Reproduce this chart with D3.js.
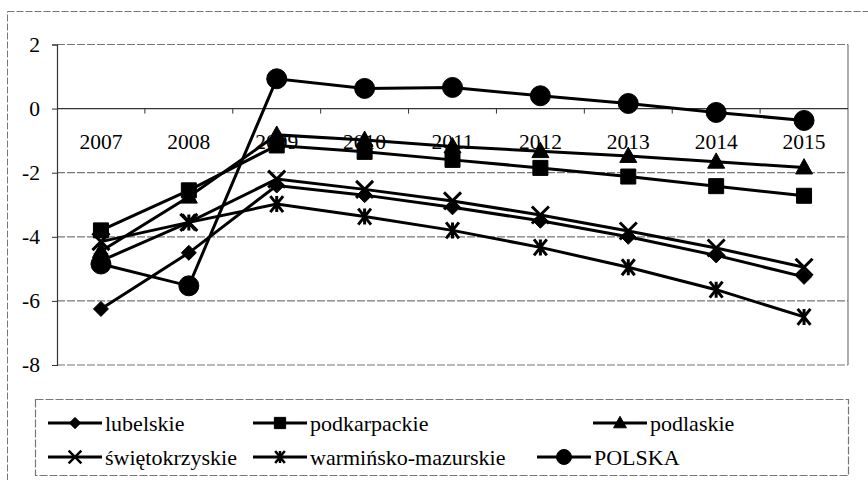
<!DOCTYPE html>
<html>
<head>
<meta charset="utf-8">
<script src="https://cdn.jsdelivr.net/npm/d3@7"></script>
<style>
  body { margin: 0; background: #fff; }
  text { font-family: "Liberation Serif", "Times New Roman", serif; fill: #000; }
</style>
</head>
<body>
<svg id="chart" width="868" height="480"></svg>
<script>
var years = ["2007", "2008", "2009", "2010", "2011", "2012", "2013", "2014", "2015"];
var yTicks = [2, 0, -2, -4, -6, -8];

var lubelskie = [-6.25, -4.5, -2.4, -2.7, -3.08, -3.5, -4.0, -4.58, -5.25];
var podkarpackie = [-3.8, -2.55, -1.15, -1.35, -1.6, -1.85, -2.12, -2.42, -2.72];
var podlaskie = [-4.45, -2.75, -0.82, -0.98, -1.18, -1.33, -1.48, -1.66, -1.84];
var swietokrzyskie = [-4.15, -3.55, -2.2, -2.52, -2.88, -3.32, -3.82, -4.35, -4.95];
var warminskoMazurskie = [-4.75, -3.55, -2.98, -3.37, -3.8, -4.33, -4.95, -5.65, -6.5];
var polska = [-4.85, -5.53, 0.93, 0.63, 0.66, 0.4, 0.16, -0.12, -0.37];

var seriesNames = ["lubelskie", "podkarpackie", "podlaskie", "świętokrzyskie", "warmińsko-mazurskie", "POLSKA"];
var seriesValues = [lubelskie, podkarpackie, podlaskie, swietokrzyskie, warminskoMazurskie, polska];
var seriesMarkers = ["diamond", "square", "triangle", "cross", "asterisk", "circle"];

var svg = d3.select("#chart");
var plotLeft = 57, plotRight = 848, plotTop = 44.5, plotBottom = 365;

var x = d3.scaleBand().domain(years).range([plotLeft, plotRight]);
var y = d3.scaleLinear().domain([-8, 2]).range([plotBottom, plotTop]);

// outer chart frame
svg.append("rect")
    .attr("x", 7.5).attr("y", 11.5).attr("width", 900).attr("height", 500)
    .attr("fill", "none").attr("stroke", "#777").attr("stroke-width", 1)
    .attr("stroke-dasharray", "7,2");

// grid lines
svg.append("g")
    .selectAll("line")
    .data(yTicks.filter(d => d != 0))
    .enter().append("line")
    .attr("x1", plotLeft).attr("x2", plotRight)
    .attr("y1", d => y(d)).attr("y2", d => y(d))
    .attr("stroke", "#777").attr("stroke-width", 1.2)
    .attr("stroke-dasharray", "8,2");

// plot right border
svg.append("line")
    .attr("x1", plotRight).attr("x2", plotRight).attr("y1", plotTop).attr("y2", plotBottom)
    .attr("stroke", "#777").attr("stroke-width", 1.2);

// y axis
var yAxis = svg.append("g")
    .attr("transform", "translate(" + plotLeft + ",0)")
    .call(d3.axisLeft(y).tickValues(yTicks).tickSize(5).tickPadding(12).tickFormat(d3.format("d")));
yAxis.select(".domain").attr("stroke", "#333").attr("stroke-width", 1.2);
yAxis.selectAll(".tick line").attr("stroke", "#333");
yAxis.selectAll(".tick text")
    .style("font-family", "'Liberation Serif', serif")
    .style("font-size", "21.5px")
    .text(d => d < 0 ? "-" + Math.abs(d) : d);

// x axis at zero, ticks between categories
var xAxis = svg.append("g").attr("transform", "translate(0," + y(0) + ")");
xAxis.append("line")
    .attr("x1", plotLeft).attr("x2", plotRight)
    .attr("stroke", "#333").attr("stroke-width", 1.2);
xAxis.selectAll(".tk")
    .data(years.slice(1))
    .enter().append("line")
    .attr("x1", d => x(d)).attr("x2", d => x(d))
    .attr("y1", 0).attr("y2", 5)
    .attr("stroke", "#333");
xAxis.selectAll(".lbl")
    .data(years)
    .enter().append("text")
    .attr("x", d => x(d) + x.bandwidth() / 2)
    .attr("y", 40)
    .attr("text-anchor", "middle")
    .style("font-size", "21.5px")
    .text(d => d);

function markerPath(type, s) {
    var h = s / 2;
    if (type == "square") return "M" + (-h) + "," + (-h) + "H" + h + "V" + h + "H" + (-h) + "Z";
    if (type == "diamond") return "M0," + (-h) + "L" + h + ",0L0," + h + "L" + (-h) + ",0Z";
    if (type == "triangle") return "M0," + (-h * 1.05) + "L" + h + "," + (h * 0.75) + "L" + (-h) + "," + (h * 0.75) + "Z";
    if (type == "cross") return "M" + (-h) + "," + (-h) + "L" + h + "," + h + "M" + h + "," + (-h) + "L" + (-h) + "," + h;
    if (type == "asterisk") return "M" + (-h * 0.8) + "," + (-h) + "L" + (h * 0.8) + "," + h + "M" + (h * 0.8) + "," + (-h) + "L" + (-h * 0.8) + "," + h + "M0," + (-h) + "L0," + h;
    return d3.symbol().type(d3.symbolCircle).size(Math.PI * h * h)();
}
var markerSize = { diamond: 15, square: 15, triangle: 17, cross: 17, asterisk: 16, circle: 20 };

var line = d3.line()
    .x((d, i) => x(years[i]) + x.bandwidth() / 2)
    .y(d => y(d));

seriesValues.forEach(function(vals, k) {
    var g = svg.append("g");
    g.append("path")
        .attr("d", line(vals))
        .attr("fill", "none").attr("stroke", "#000").attr("stroke-width", 3);
    var type = seriesMarkers[k];
    var open = type == "cross" || type == "asterisk";
    g.selectAll(".m")
        .data(vals)
        .enter().append("path")
        .attr("transform", (d, i) => "translate(" + (x(years[i]) + x.bandwidth() / 2) + "," + y(d) + ")")
        .attr("d", markerPath(type, markerSize[type]))
        .attr("fill", open ? "none" : "#000")
        .attr("stroke", "#000")
        .attr("stroke-width", open ? 3 : 1);
});

// legend
svg.append("rect")
    .attr("x", 35.5).attr("y", 399.5).attr("width", 813).attr("height", 76)
    .attr("fill", "none").attr("stroke", "#777").attr("stroke-width", 1.2)
    .attr("stroke-dasharray", "8,2");

// entry start positions (the last one sits left of its column, as in the original)
var legendX = [48, 253, 593, 48, 253, 537];
var rowY = [423, 457];
seriesNames.forEach(function(name, k) {
    var cx = legendX[k], cy = rowY[Math.floor(k / 3)];
    var g = svg.append("g").attr("transform", "translate(" + cx + "," + cy + ")");
    g.append("line").attr("x1", 0).attr("x2", 54).attr("y1", 0).attr("y2", 0)
        .attr("stroke", "#000").attr("stroke-width", 2.8);
    var type = seriesMarkers[k];
    var open = type == "cross" || type == "asterisk";
    g.append("path")
        .attr("transform", "translate(27,0)")
        .attr("d", markerPath(type, markerSize[type] * 0.75))
        .attr("fill", open ? "none" : "#000")
        .attr("stroke", "#000")
        .attr("stroke-width", open ? 2.5 : 1);
    g.append("text")
        .attr("x", 57).attr("y", 7.5)
        .style("font-size", "22px")
        .text(name);
});
</script>
</body>
</html>
